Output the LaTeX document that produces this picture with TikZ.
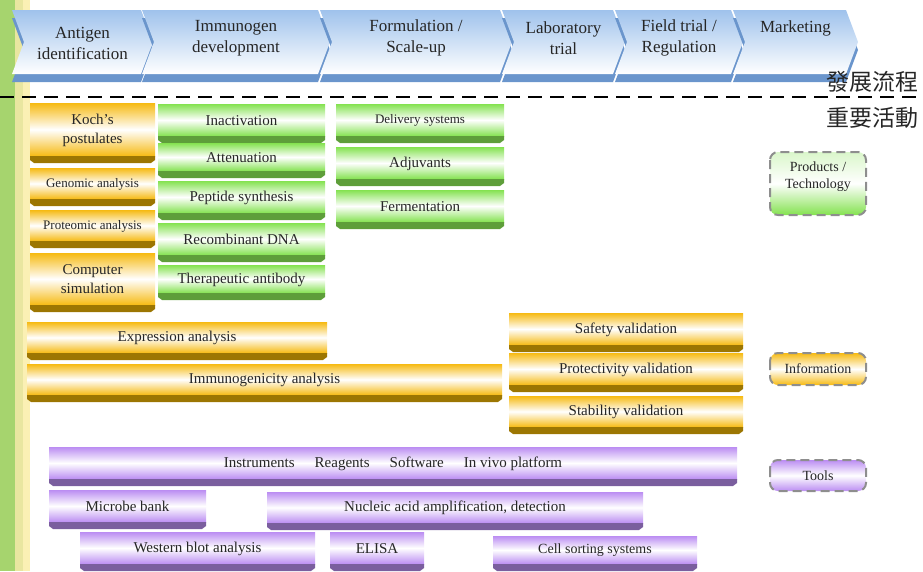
\documentclass[tikz,border=0pt]{standalone}
\usepackage{fontspec}
\setmainfont{Liberation Serif}
\newfontfamily\cjkfont{Noto Sans CJK TC}
\usepackage{xcolor}
\usetikzlibrary{positioning}

\definecolor{chevtop}{HTML}{9FC2EC}
\definecolor{chevdark}{HTML}{6A95CC}
\definecolor{barorange}{HTML}{F6BA12}
\definecolor{darkorange}{HTML}{9C7602}
\definecolor{bargreen}{HTML}{84E250}
\definecolor{darkgreen}{HTML}{5E9E3A}
\definecolor{barpurple}{HTML}{BB8DF2}
\definecolor{darkpurple}{HTML}{7A5E9E}
\definecolor{stripegreen}{HTML}{A6D46E}
\definecolor{stripeyellow}{HTML}{E9E6A0}
\definecolor{stripecream}{HTML}{FBF0B4}
\definecolor{legendgray}{HTML}{8E8E8E}

\tikzset{
  chevtext/.style={align=center, text=black!85, font=\rmfamily\fontsize{17}{21}\selectfont},
  bartext/.style={align=center, text=black!85},
  barface/.style={top color=#1, bottom color=#1, middle color=white},
  legendbox/.style={draw=legendgray, line width=2pt, dash pattern=on 9pt off 5pt, rounded corners=8pt},
}

\begin{document}
\begin{tikzpicture}[x=1pt,y=-1pt]
\useasboundingbox (0,0) rectangle (923,571);

% Side stripes
\fill[stripegreen] (0,0) rectangle (15,571);
\fill[stripeyellow] (15,0) rectangle (23,571);
\fill[stripecream] (23,0) rectangle (30,571);

% Process chevrons
\foreach \xa/\xb/\ty/\nm/\txt in {12/141/43/antigen/{Antigen\\identification},
    142/318/38/immunogen/{Immunogen\\development},
    320/500/38/formulation/{Formulation /\\Scale-up},
    502/613/38/labtrial/{Laboratory\\trial},
    615/731/38/fieldtrial/{Field trial /\\Regulation},
    733/846/28/marketing/{Marketing}}
{
  \fill[chevdark] (\xa,18) -- (\xb,18) -- ({\xb+12},50) -- (\xb,82) -- (\xa,82) -- ({\xa+12},50) -- cycle;
  \shade[top color=chevtop, bottom color=white] (\xa,10) -- (\xb,10) -- ({\xb+12},42) -- (\xb,74) -- (\xa,74) -- ({\xa+12},42) -- cycle;
  \node[chevtext] (\nm) at ({(\xa+\xb)/2+6},\ty) {\txt};
}

% Divider
\draw[line width=2.5pt, dash pattern=on 14pt off 8pt] (0,97) -- (923,97);
\node[font=\cjkfont\fontsize{23}{23}\selectfont, text=black!85] (stage) at (872,82) {發展流程};
\node[font=\cjkfont\fontsize{23}{23}\selectfont, text=black!85] (activity) at (872,118) {重要活動};

% Information (orange)
\foreach \xa/\ya/\xb/\yb/\fs/\nm/\txt in {30/103/155/163/15/koch/{Koch's\\postulates},
    30/168/155/206/13/genomic/{Genomic analysis},
    30/210/155/248/13/proteomic/{Proteomic analysis},
    30/253/155/312/15/computer/{Computer\\simulation},
    27/322/327/360/15/expression/{Expression analysis},
    27/364/502/402/15/immunogenicity/{Immunogenicity analysis},
    509/313/743/352/15/safety/{Safety validation},
    509/353/743/392/15/protectivity/{Protectivity validation},
    509/396/743/434/15/stability/{Stability validation}}
{
  \shade[barface=barorange] (\xa,\ya) rectangle (\xb,{\yb-7});
  \fill[darkorange] (\xa,{\yb-7}) -- (\xb,{\yb-7}) -- (\xb,{\yb-3}) -- ({\xb-4},\yb) -- ({\xa+4},\yb) -- (\xa,{\yb-3}) -- cycle;
  \node[bartext, font=\fontsize{\fs}{19}\selectfont] (\nm) at ({(\xa+\xb)/2},{(\ya+\yb)/2-3}) {\txt};
}

% Products / technology (green)
\foreach \xa/\ya/\xb/\yb/\fs/\nm/\txt in {158/104/325/143/15/inactivation/{Inactivation},
    158/143/325/178/15/attenuation/{Attenuation},
    158/181/325/220/15/peptide/{Peptide synthesis},
    158/223/325/262/15/recombinant/{Recombinant DNA},
    158/265/325/300/15/antibody/{Therapeutic antibody},
    336/104/504/143/13/delivery/{Delivery systems},
    336/147/504/186/15/adjuvants/{Adjuvants},
    336/190/504/229/15/fermentation/{Fermentation}}
{
  \shade[barface=bargreen] (\xa,\ya) rectangle (\xb,{\yb-7});
  \fill[darkgreen] (\xa,{\yb-7}) -- (\xb,{\yb-7}) -- (\xb,{\yb-3}) -- ({\xb-4},\yb) -- ({\xa+4},\yb) -- (\xa,{\yb-3}) -- cycle;
  \node[bartext, font=\fontsize{\fs}{19}\selectfont] (\nm) at ({(\xa+\xb)/2},{(\ya+\yb)/2-3}) {\txt};
}

% Tools (purple)
\foreach \xa/\ya/\xb/\yb/\fs/\nm/\txt in {49/447/737/486/15/platform/{Instruments\hspace{20pt}Reagents\hspace{20pt}Software\hspace{20pt}In vivo platform},
    49/490/206/529/15/microbe/{Microbe bank},
    267/492/643/530/15/nucleic/{Nucleic acid amplification, detection},
    80/532/315/571/15/western/{Western blot analysis},
    330/532/424/571/15/elisa/{ELISA},
    493/536/697/571/14/cellsort/{Cell sorting systems}}
{
  \shade[barface=barpurple] (\xa,\ya) rectangle (\xb,{\yb-7});
  \fill[darkpurple] (\xa,{\yb-7}) -- (\xb,{\yb-7}) -- (\xb,{\yb-3}) -- ({\xb-4},\yb) -- ({\xa+4},\yb) -- (\xa,{\yb-3}) -- cycle;
  \node[bartext, font=\fontsize{\fs}{19}\selectfont] (\nm) at ({(\xa+\xb)/2},{(\ya+\yb)/2-3}) {\txt};
}

% Legend
\draw[legendbox, top color=bargreen!30, bottom color=bargreen, middle color=white] (770,152) rectangle (866,215);
\node[bartext, font=\fontsize{14}{17}\selectfont] (products) at (818,177) {Products /\\Technology};
\draw[legendbox, barface=barorange] (770,353) rectangle (866,385);
\node[bartext, font=\fontsize{14}{17}\selectfont] (information) at (818,369) {Information};
\draw[legendbox, barface=barpurple] (770,460) rectangle (866,491);
\node[bartext, font=\fontsize{14}{17}\selectfont] (tools) at (818,476) {Tools};
\end{tikzpicture}
\end{document}
